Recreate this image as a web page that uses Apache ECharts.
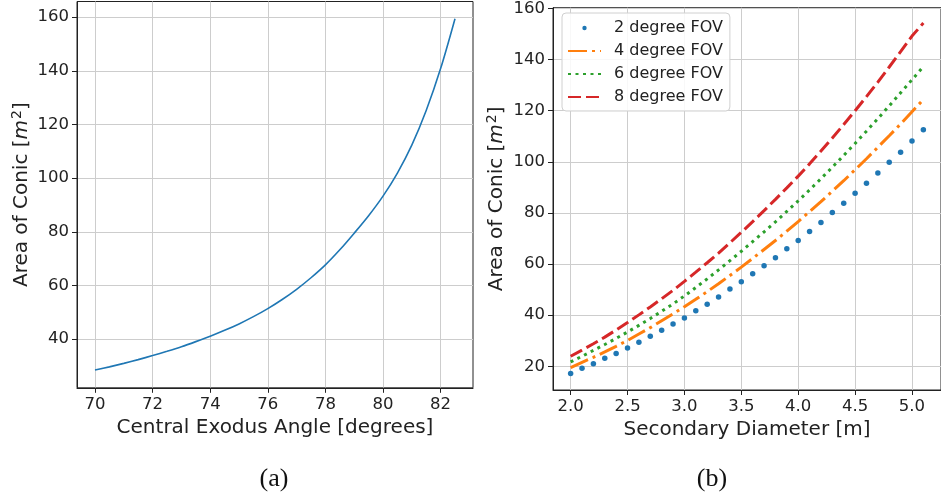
<!DOCTYPE html>
<html>
<head>
<meta charset="utf-8">
<script src="https://cdn.jsdelivr.net/npm/echarts@6/dist/echarts.min.js"></script>
<style>
  html, body { margin: 0; padding: 0; background: #ffffff; }
  #chart { width: 941px; height: 501px; }
</style>
</head>
<body>
<div id="chart"></div>
<script>
// (a) conic area versus central exodus angle
const exodusAngles = [70, 70.5, 71, 71.5, 72, 72.5, 73, 73.5, 74, 74.5, 75, 75.5, 76, 76.5,
  77, 77.5, 78, 78.5, 79, 79.5, 80, 80.5, 81, 81.5, 82, 82.5];
const conicAreaByAngle = [28.5, 29.7, 31.0, 32.4, 33.9, 35.5, 37.2, 39.1, 41.1, 43.3, 45.7, 48.4,
  51.4, 54.8, 58.6, 62.9, 67.7, 73.3, 79.5, 86.0, 93.3, 101.9, 112.3, 125.2, 140.8, 159.4];
const angleTicks = [70, 72, 74, 76, 78, 80, 82];
const areaTicksA = [40, 60, 80, 100, 120, 140, 160];

// (b) conic area versus secondary diameter, one series per field of view
const diameters = [2.0, 2.1, 2.2, 2.3, 2.4, 2.5, 2.6, 2.7, 2.8, 2.9, 3.0, 3.1, 3.2, 3.3, 3.4, 3.5,
  3.6, 3.7, 3.8, 3.9, 4.0, 4.1, 4.2, 4.3, 4.4, 4.5, 4.6, 4.7, 4.8, 4.9, 5.0, 5.1];
const fov2 = [17.2, 19.2, 21.0, 23.1, 25.0, 27.1, 29.4, 31.7, 34.1, 36.5, 38.9, 41.7, 44.3, 47.1,
  50.2, 53.1, 56.2, 59.3, 62.5, 66.0, 69.2, 72.7, 76.3, 80.2, 83.8, 87.7, 91.6, 95.6, 99.8, 103.7,
  108.1, 112.5];
const fov4 = [19.5, 21.5, 23.5, 25.6, 27.8, 30.1, 32.6, 35.1, 37.8, 40.5, 43.3, 46.2, 49.2, 52.3,
  55.5, 58.8, 62.2, 65.7, 69.2, 72.9, 76.6, 80.5, 84.4, 88.5, 92.6, 96.9, 101.2, 105.7, 110.2,
  114.8, 119.6, 124.4];
const fov6 = [21.7, 23.9, 26.2, 28.5, 30.9, 33.4, 36.0, 38.7, 41.5, 44.4, 47.5, 50.8, 54.2, 57.7,
  61.3, 65.0, 68.8, 72.6, 76.5, 80.6, 84.7, 89.0, 93.4, 97.9, 102.5, 107.2, 112.0, 116.9, 121.9,
  127.0, 132.1, 137.3];
const fov8 = [23.9, 26.3, 28.8, 31.4, 34.2, 37.1, 40.1, 43.2, 46.4, 49.7, 53.2, 56.8, 60.5, 64.3,
  68.3, 72.4, 76.6, 80.9, 85.3, 89.8, 94.4, 99.2, 104.2, 109.3, 114.6, 120.0, 125.5, 131.2, 137.1,
  143.1, 149.2, 154.3];
const fovNames = ['2 degree FOV', '4 degree FOV', '6 degree FOV', '8 degree FOV'];
const diameterTicks = [2.0, 2.5, 3.0, 3.5, 4.0, 4.5, 5.0];
const areaTicksB = [20, 40, 60, 80, 100, 120, 140, 160];

const FONT = 'DejaVu Sans';
const INK = '#222222';
const GRID_COLOR = '#cdcdcd';
const C_BLUE = '#1f77b4', C_ORANGE = '#ff7f0e', C_GREEN = '#2ca02c', C_RED = '#d62728';

const pairs = (xs, ys) => xs.map((x, i) => [x, ys[i]]);

// shared styling for the y-axis title "Area of Conic [m^2]"
const areaName = '{t|Area of Conic [}{i|m}{s|2}{t|]}';
const areaRich = {
  t: { fontSize: 20, fontFamily: FONT, color: INK, verticalAlign: 'bottom' },
  i: { fontSize: 20, fontFamily: FONT, color: INK, fontStyle: 'italic', verticalAlign: 'bottom' },
  s: { fontSize: 14, fontFamily: FONT, color: INK, verticalAlign: 'bottom', padding: [0, 0, 8, 1] }
};

function valueAxis(gridIndex, min, max, ticks, fmt, extra, rich) {
  const nameStyle = { color: INK, fontSize: 20, fontFamily: FONT, verticalAlign: 'middle' };
  if (rich) nameStyle.rich = rich;
  return Object.assign({
    gridIndex: gridIndex,
    type: 'value',
    min: min,
    max: max,
    axisLine: { show: true, onZero: false, lineStyle: { color: INK, width: 1 } },
    axisTick: { show: true, customValues: ticks, length: 5, inside: false,
                lineStyle: { color: INK, width: 1 } },
    axisLabel: { customValues: ticks, formatter: fmt, color: INK, fontSize: 16.5,
                 fontFamily: FONT },
    splitLine: { show: true, lineStyle: { color: GRID_COLOR, width: 1 } },
    nameLocation: 'middle',
    nameTextStyle: nameStyle
  }, extra || {});
}

const chart = echarts.init(document.getElementById('chart'), null, { renderer: 'canvas' });

const option = {
  animation: false,
  backgroundColor: '#ffffff',
  grid: [
    { left: 77, top: 1.5, width: 396, height: 386.3, show: true,
      borderColor: INK, borderWidth: 1, backgroundColor: 'transparent' },
    { left: 553, top: 4, width: 396, height: 386, show: true,
      borderColor: INK, borderWidth: 1, backgroundColor: 'transparent' }
  ],
  xAxis: [
    valueAxis(0, 69.375, 83.125, angleTicks, v => String(Math.round(v)),
      { name: 'Central Exodus Angle [degrees]', nameGap: 38 }),
    valueAxis(1, 1.845, 5.255, diameterTicks, v => v.toFixed(1),
      { name: 'Secondary Diameter [m]', nameGap: 38 })
  ],
  yAxis: [
    valueAxis(0, 21.9, 165.8, areaTicksA, v => String(v),
      { name: areaName, nameGap: 56 }, areaRich),
    valueAxis(1, 10.7, 160.3, areaTicksB, v => String(v),
      { name: areaName, nameGap: 57 }, areaRich)
  ],
  legend: {
    orient: 'vertical',
    left: 562,
    top: 13,
    padding: [7, 7, 6, 5],
    itemGap: 7,
    itemWidth: 33,
    itemHeight: 14,
    backgroundColor: 'rgba(255,255,255,0.85)',
    borderColor: '#d0d0d0',
    borderWidth: 1,
    borderRadius: 4,
    textStyle: { color: INK, fontSize: 16, fontFamily: FONT, lineHeight: 16,
                 padding: [0, 0, 0, 8] },
    data: [
      { name: fovNames[0],
        icon: 'path://M0,0 M33,14 M14.3,7 A2.2,2.2 0 1 1 18.7,7 A2.2,2.2 0 1 1 14.3,7 Z' },
      { name: fovNames[1], itemStyle: { opacity: 0 } },
      { name: fovNames[2], itemStyle: { opacity: 0 } },
      { name: fovNames[3], itemStyle: { opacity: 0 } }
    ]
  },
  graphic: [
    { type: 'text', x: 274, y: 479,
      style: { text: '(a)', align: 'center', verticalAlign: 'middle',
               font: '26px "Liberation Serif", "DejaVu Serif", serif', fill: '#111111' } },
    { type: 'text', x: 712, y: 479,
      style: { text: '(b)', align: 'center', verticalAlign: 'middle',
               font: '26px "Liberation Serif", "DejaVu Serif", serif', fill: '#111111' } }
  ],
  series: [
    {
      type: 'line', xAxisIndex: 0, yAxisIndex: 0,
      data: pairs(exodusAngles, conicAreaByAngle),
      symbol: 'none', smooth: 0.3,
      lineStyle: { color: C_BLUE, width: 1.6 },
      itemStyle: { color: C_BLUE }
    },
    {
      name: fovNames[0], type: 'scatter', xAxisIndex: 1, yAxisIndex: 1,
      data: pairs(diameters, fov2),
      symbol: 'circle', symbolSize: 5.5,
      itemStyle: { color: C_BLUE, opacity: 1 }
    },
    {
      name: fovNames[1], type: 'line', xAxisIndex: 1, yAxisIndex: 1,
      data: pairs(diameters, fov4), symbol: 'none',
      lineStyle: { color: C_ORANGE, width: 3, type: [19, 5, 3, 5], cap: 'butt' },
      itemStyle: { color: C_ORANGE }
    },
    {
      name: fovNames[2], type: 'line', xAxisIndex: 1, yAxisIndex: 1,
      data: pairs(diameters, fov6), symbol: 'none',
      lineStyle: { color: C_GREEN, width: 3, type: [3, 4.5], cap: 'butt' },
      itemStyle: { color: C_GREEN }
    },
    {
      name: fovNames[3], type: 'line', xAxisIndex: 1, yAxisIndex: 1,
      data: pairs(diameters, fov8), symbol: 'none',
      lineStyle: { color: C_RED, width: 3, type: [13, 5], cap: 'butt' },
      itemStyle: { color: C_RED }
    }
  ]
};

chart.setOption(option);
</script>
</body>
</html>
